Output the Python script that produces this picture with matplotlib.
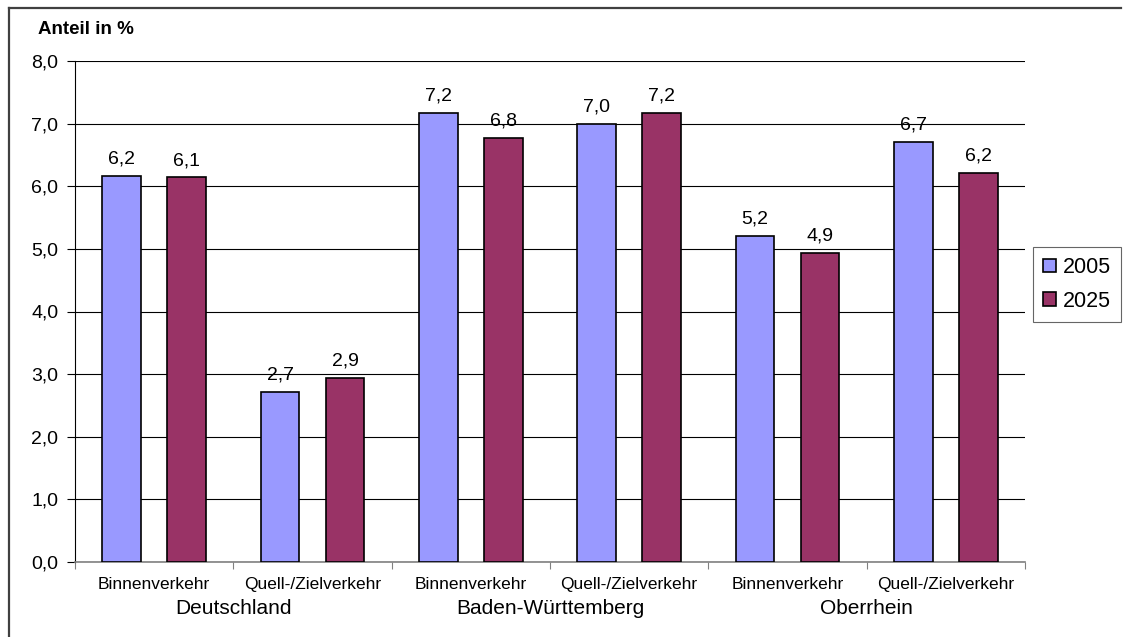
import matplotlib.pyplot as plt
from matplotlib.lines import Line2D
import numpy as np

plt.rcParams['font.family'] = ['Liberation Sans', 'DejaVu Sans']

# Anteil je Verkehrsart und Raum
kategorien = ['Binnenverkehr', 'Quell-/Zielverkehr'] * 3
regionen = ['Deutschland', 'Baden-Württemberg', 'Oberrhein']
werte_2005 = [6.16, 2.71, 7.17, 7.00, 5.21, 6.71]
werte_2025 = [6.14, 2.94, 6.77, 7.17, 4.94, 6.21]
jahre = ['2005', '2025']
farben = ['#9999FF', '#993366']

fig = plt.figure(figsize=(11.23, 6.37), dpi=100)
ax = fig.add_axes([75 / 1123, 1 - 562 / 637, 950 / 1123, 501 / 637])

x = np.arange(len(kategorien))
breite = 0.245
versatz = 0.205
for serie, farbe, jahr, dx in zip([werte_2005, werte_2025], farben, jahre, [-versatz, versatz]):
    bars = ax.bar(x + dx, serie, breite, color=farbe, edgecolor='black', linewidth=1.2,
                  label=jahr, zorder=3)
    for b, v in zip(bars, serie):
        ax.annotate(f'{v:.1f}'.replace('.', ','), (b.get_x() + b.get_width() / 2, v),
                    xytext=(0, 6), textcoords='offset points', ha='center', va='bottom',
                    fontsize=14)

ax.set_xlim(-0.5, len(kategorien) - 0.5)
ax.set_ylim(0, 8)
ax.set_yticks(np.arange(0, 9, 1))
ax.set_yticklabels([f'{t:.1f}'.replace('.', ',') for t in np.arange(0, 9, 1)], fontsize=14)
ax.yaxis.grid(True, color='black', linewidth=0.8, zorder=0)
ax.tick_params(axis='y', length=6, width=0.8, pad=6)

ax.set_xticks(x)
ax.set_xticklabels(kategorien, fontsize=12.5)
ax.tick_params(axis='x', length=0, pad=11)
ax.set_xticks(np.arange(-0.5, len(kategorien), 1), minor=True)
ax.tick_params(axis='x', which='minor', length=5, width=0.8, color='#808080')

for s in ['top', 'right']:
    ax.spines[s].set_visible(False)
ax.spines['left'].set_linewidth(0.8)
ax.spines['bottom'].set_color('#808080')
ax.spines['bottom'].set_linewidth(1.2)

# Raumbezeichnungen unter den Kategorien
for i, r in enumerate(regionen):
    fig.text((75 + 158.33 * (2 * i + 1)) / 1123, 1 - 609 / 637, r, ha='center', va='center',
             fontsize=15)

fig.text(38 / 1123, 1 - 30 / 637, 'Anteil in %', ha='left', va='center', fontsize=13.5,
         fontweight='bold')

leg = ax.legend(loc='center left', bbox_to_anchor=(1.0085, 0.554), frameon=True, fancybox=False,
                edgecolor='#404040', fontsize=15.5, handlelength=0.6, handleheight=0.6,
                handletextpad=0.35, borderpad=0.45, labelspacing=0.6, borderaxespad=0)
leg.get_frame().set_linewidth(0.8)

# Rahmen links und oben
fig.add_artist(Line2D([9 / 1123, 9 / 1123], [0, 1 - 8 / 637], transform=fig.transFigure,
                      color='#404040', linewidth=1.6))
fig.add_artist(Line2D([9 / 1123, 1121 / 1123], [1 - 8 / 637, 1 - 8 / 637],
                      transform=fig.transFigure, color='#404040', linewidth=1.6))

fig.savefig('out.png', dpi=100)
